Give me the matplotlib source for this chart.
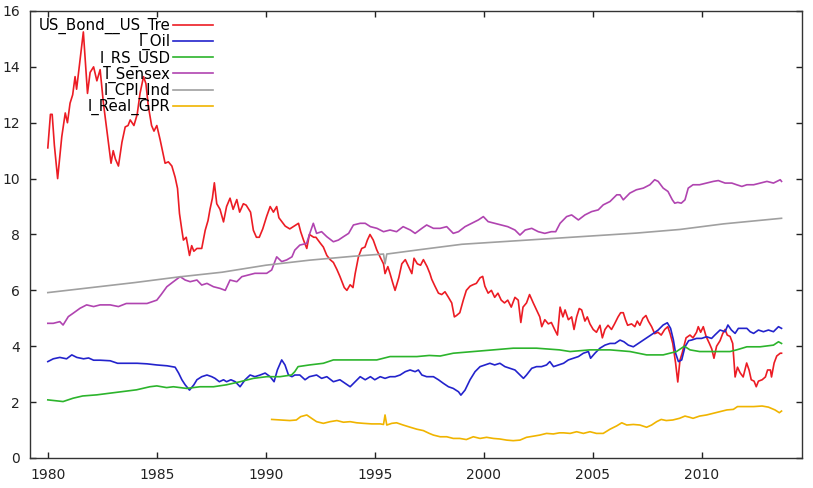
import numpy as np
import matplotlib
matplotlib.use("Agg")
import matplotlib.pyplot as plt

# (year, value) pairs
us_bond = [
    (1980.0, 11.1), (1980.12, 12.3), (1980.2, 12.3), (1980.3, 11.2), (1980.45, 10.0),
    (1980.64, 11.5), (1980.8, 12.35), (1980.9, 12.0), (1981.02, 12.7), (1981.14, 13.0),
    (1981.25, 13.65), (1981.32, 13.2), (1981.48, 14.25), (1981.63, 15.25), (1981.82, 13.05),
    (1981.94, 13.8), (1982.1, 14.0), (1982.25, 13.5), (1982.4, 13.9), (1982.55, 12.7),
    (1982.73, 11.6), (1982.9, 10.55), (1983.0, 11.0), (1983.1, 10.7), (1983.24, 10.45),
    (1983.4, 11.3), (1983.55, 11.85), (1983.68, 11.9), (1983.78, 12.1), (1983.95, 11.9),
    (1984.1, 12.3), (1984.23, 13.05), (1984.39, 13.65), (1984.5, 13.4), (1984.61, 12.6),
    (1984.76, 11.9), (1984.87, 11.7), (1985.0, 11.9), (1985.15, 11.4), (1985.38, 10.55),
    (1985.53, 10.6), (1985.69, 10.45), (1985.84, 10.05), (1985.95, 9.65), (1986.04, 8.75),
    (1986.15, 8.15), (1986.22, 7.8), (1986.35, 7.9), (1986.5, 7.25), (1986.6, 7.6),
    (1986.7, 7.4), (1986.84, 7.5), (1987.06, 7.5), (1987.22, 8.15), (1987.35, 8.5),
    (1987.44, 8.9), (1987.55, 9.3), (1987.64, 9.85), (1987.75, 9.1), (1987.9, 8.9),
    (1988.06, 8.45), (1988.2, 9.0), (1988.36, 9.3), (1988.5, 8.9), (1988.67, 9.25),
    (1988.8, 8.8), (1988.97, 9.1), (1989.1, 9.05), (1989.3, 8.8), (1989.43, 8.15),
    (1989.57, 7.9), (1989.7, 7.9), (1989.86, 8.2), (1990.04, 8.65), (1990.2, 9.0),
    (1990.35, 8.8), (1990.5, 9.0), (1990.6, 8.6), (1990.89, 8.3), (1991.1, 8.2),
    (1991.3, 8.3), (1991.5, 8.4), (1991.6, 8.1), (1991.73, 7.8), (1991.88, 7.5),
    (1992.0, 8.0), (1992.2, 7.9), (1992.3, 7.9), (1992.49, 7.7), (1992.64, 7.55),
    (1992.8, 7.25), (1992.95, 7.1), (1993.1, 7.0), (1993.26, 6.75), (1993.4, 6.5),
    (1993.5, 6.3), (1993.6, 6.1), (1993.72, 6.0), (1993.87, 6.2), (1994.0, 6.1),
    (1994.1, 6.6), (1994.25, 7.2), (1994.4, 7.5), (1994.55, 7.55), (1994.66, 7.8),
    (1994.78, 8.0), (1994.93, 7.8), (1995.09, 7.45), (1995.24, 7.2), (1995.4, 6.95),
    (1995.47, 6.6), (1995.6, 6.85), (1995.7, 6.6), (1995.83, 6.25), (1995.93, 6.0),
    (1996.1, 6.45), (1996.24, 6.95), (1996.4, 7.1), (1996.55, 6.85), (1996.7, 6.6),
    (1996.8, 7.15), (1996.95, 6.95), (1997.1, 6.9), (1997.23, 7.1), (1997.4, 6.85),
    (1997.53, 6.6), (1997.61, 6.4), (1997.76, 6.15), (1997.92, 5.9), (1998.07, 5.85),
    (1998.22, 5.95), (1998.38, 5.75), (1998.53, 5.55), (1998.65, 5.05), (1998.75, 5.1),
    (1998.9, 5.2), (1999.06, 5.65), (1999.2, 6.0), (1999.37, 6.15), (1999.5, 6.2),
    (1999.66, 6.25), (1999.83, 6.45), (1999.95, 6.5), (2000.05, 6.15), (2000.2, 5.9),
    (2000.35, 6.0), (2000.5, 5.75), (2000.65, 5.9), (2000.8, 5.65), (2000.95, 5.55),
    (2001.1, 5.65), (2001.26, 5.4), (2001.43, 5.75), (2001.58, 5.65), (2001.7, 4.85),
    (2001.8, 5.4), (2001.96, 5.55), (2002.1, 5.85), (2002.27, 5.55), (2002.42, 5.3),
    (2002.57, 5.05), (2002.66, 4.7), (2002.8, 4.95), (2002.96, 4.8), (2003.1, 4.85),
    (2003.25, 4.6), (2003.38, 4.4), (2003.5, 5.4), (2003.63, 5.05), (2003.73, 5.3),
    (2003.88, 4.95), (2004.03, 5.05), (2004.14, 4.6), (2004.26, 5.05), (2004.38, 5.35),
    (2004.49, 5.3), (2004.64, 4.9), (2004.75, 5.05), (2004.87, 4.8), (2005.02, 4.6),
    (2005.17, 4.5), (2005.33, 4.75), (2005.44, 4.3), (2005.56, 4.6), (2005.7, 4.75),
    (2005.86, 4.6), (2006.0, 4.8), (2006.16, 5.05), (2006.28, 5.2), (2006.4, 5.2),
    (2006.5, 4.95), (2006.6, 4.75), (2006.78, 4.8), (2006.93, 4.7), (2007.04, 4.9),
    (2007.16, 4.75), (2007.3, 5.0), (2007.44, 5.1), (2007.55, 4.9), (2007.7, 4.7),
    (2007.84, 4.45), (2007.99, 4.5), (2008.14, 4.4), (2008.3, 4.6), (2008.44, 4.7),
    (2008.55, 4.45), (2008.67, 4.1), (2008.8, 3.4), (2008.9, 2.72), (2009.0, 3.5),
    (2009.1, 3.75), (2009.28, 4.3), (2009.46, 4.4), (2009.6, 4.3), (2009.76, 4.5),
    (2009.84, 4.7), (2009.95, 4.5), (2010.07, 4.7), (2010.2, 4.35), (2010.35, 4.1),
    (2010.46, 3.9), (2010.56, 3.57), (2010.68, 4.0), (2010.84, 4.2), (2010.96, 4.45),
    (2011.07, 4.6), (2011.17, 4.4), (2011.3, 4.35), (2011.42, 4.1), (2011.53, 2.9),
    (2011.64, 3.25), (2011.76, 3.05), (2011.9, 2.9), (2012.06, 3.4), (2012.17, 3.15),
    (2012.27, 2.8), (2012.4, 2.75), (2012.5, 2.55), (2012.6, 2.75), (2012.77, 2.8),
    (2012.92, 2.9), (2013.02, 3.15), (2013.15, 3.15), (2013.2, 2.9), (2013.32, 3.4),
    (2013.44, 3.65), (2013.6, 3.75), (2013.66, 3.75),
]

l_oil = [
    (1980.0, 3.45), (1980.25, 3.55), (1980.55, 3.6), (1980.86, 3.55), (1981.1, 3.69),
    (1981.33, 3.6), (1981.64, 3.55), (1981.87, 3.58), (1982.1, 3.5), (1982.4, 3.5),
    (1982.86, 3.48), (1983.2, 3.39), (1983.63, 3.39), (1984.1, 3.39), (1984.55, 3.37),
    (1985.0, 3.33), (1985.47, 3.3), (1985.84, 3.25), (1986.0, 3.04), (1986.15, 2.8),
    (1986.3, 2.62), (1986.5, 2.43), (1986.7, 2.62), (1986.84, 2.8), (1987.06, 2.91),
    (1987.3, 2.97), (1987.52, 2.91), (1987.67, 2.85), (1987.87, 2.73), (1988.06, 2.8),
    (1988.2, 2.73), (1988.4, 2.8), (1988.6, 2.73), (1988.82, 2.55), (1989.05, 2.8),
    (1989.28, 2.97), (1989.5, 2.91), (1989.74, 2.97), (1989.97, 3.04), (1990.2, 2.91),
    (1990.38, 2.73), (1990.53, 3.15), (1990.73, 3.51), (1990.88, 3.33), (1991.04, 2.97),
    (1991.2, 2.91), (1991.33, 2.97), (1991.56, 2.97), (1991.8, 2.8), (1992.0, 2.91),
    (1992.33, 2.97), (1992.56, 2.85), (1992.8, 2.91), (1993.1, 2.73), (1993.4, 2.8),
    (1993.64, 2.67), (1993.87, 2.55), (1994.1, 2.73), (1994.33, 2.91), (1994.56, 2.8),
    (1994.8, 2.91), (1995.0, 2.8), (1995.25, 2.91), (1995.47, 2.85), (1995.7, 2.91),
    (1995.93, 2.91), (1996.16, 2.97), (1996.4, 3.09), (1996.62, 3.15), (1996.85, 3.09),
    (1997.0, 3.15), (1997.16, 2.97), (1997.38, 2.91), (1997.69, 2.91), (1997.92, 2.8),
    (1998.15, 2.67), (1998.38, 2.55), (1998.6, 2.49), (1998.84, 2.37), (1998.95, 2.25),
    (1999.14, 2.43), (1999.37, 2.8), (1999.6, 3.09), (1999.83, 3.27), (2000.05, 3.33),
    (2000.28, 3.39), (2000.5, 3.33), (2000.74, 3.39), (2000.97, 3.27), (2001.2, 3.21),
    (2001.43, 3.15), (2001.66, 2.97), (2001.82, 2.85), (2001.96, 2.97), (2002.2, 3.21),
    (2002.42, 3.27), (2002.65, 3.27), (2002.88, 3.33), (2003.03, 3.45), (2003.2, 3.27),
    (2003.43, 3.33), (2003.66, 3.39), (2003.88, 3.51), (2004.11, 3.57), (2004.34, 3.63),
    (2004.57, 3.75), (2004.8, 3.81), (2004.9, 3.57), (2005.1, 3.75), (2005.33, 3.93),
    (2005.56, 4.04), (2005.79, 4.1), (2006.02, 4.1), (2006.25, 4.22), (2006.43, 4.16),
    (2006.63, 4.04), (2006.86, 3.98), (2007.09, 4.1), (2007.32, 4.22), (2007.55, 4.34),
    (2007.78, 4.46), (2008.0, 4.58), (2008.23, 4.76), (2008.42, 4.84), (2008.57, 4.64),
    (2008.7, 4.22), (2008.8, 3.75), (2008.93, 3.45), (2009.08, 3.51), (2009.23, 3.98),
    (2009.4, 4.2), (2009.53, 4.22), (2009.76, 4.28), (2009.99, 4.28), (2010.22, 4.34),
    (2010.45, 4.28), (2010.6, 4.4), (2010.84, 4.58), (2011.07, 4.52), (2011.2, 4.76),
    (2011.36, 4.58), (2011.53, 4.46), (2011.68, 4.64), (2011.84, 4.64), (2012.07, 4.64),
    (2012.22, 4.52), (2012.38, 4.46), (2012.6, 4.58), (2012.83, 4.52), (2013.06, 4.58),
    (2013.29, 4.52), (2013.52, 4.7), (2013.66, 4.64),
]

l_rs_usd = [
    (1980.0, 2.08), (1980.7, 2.02), (1981.16, 2.14), (1981.6, 2.22), (1982.25, 2.26),
    (1982.85, 2.32), (1983.46, 2.38), (1984.07, 2.44), (1984.68, 2.55), (1985.0, 2.58),
    (1985.45, 2.52), (1985.76, 2.55), (1986.37, 2.49), (1986.98, 2.55), (1987.6, 2.55),
    (1988.2, 2.62), (1988.82, 2.73), (1989.43, 2.85), (1990.04, 2.91), (1990.65, 2.91),
    (1991.18, 2.97), (1991.33, 3.09), (1991.48, 3.27), (1992.0, 3.33), (1992.64, 3.39),
    (1993.1, 3.51), (1994.17, 3.51), (1995.09, 3.51), (1995.7, 3.63), (1996.3, 3.63),
    (1996.93, 3.63), (1997.5, 3.67), (1998.0, 3.65), (1998.6, 3.75), (1999.52, 3.81),
    (2000.44, 3.87), (2001.35, 3.93), (2002.42, 3.93), (2003.47, 3.87), (2003.96, 3.81),
    (2004.87, 3.87), (2005.79, 3.87), (2006.71, 3.81), (2007.47, 3.69), (2008.23, 3.69),
    (2008.84, 3.81), (2009.2, 4.0), (2009.46, 3.87), (2009.9, 3.81), (2010.53, 3.81),
    (2011.3, 3.81), (2011.6, 3.87), (2012.07, 3.98), (2012.68, 3.98), (2013.29, 4.04),
    (2013.52, 4.16), (2013.66, 4.1),
]

l_sensex = [
    (1980.0, 4.82), (1980.25, 4.82), (1980.55, 4.88), (1980.7, 4.76), (1980.94, 5.06),
    (1981.16, 5.18), (1981.48, 5.36), (1981.78, 5.48), (1982.1, 5.42), (1982.4, 5.48),
    (1982.86, 5.48), (1983.24, 5.42), (1983.6, 5.53), (1984.1, 5.53), (1984.55, 5.53),
    (1985.0, 5.65), (1985.2, 5.85), (1985.46, 6.13), (1985.76, 6.31), (1986.07, 6.49),
    (1986.3, 6.37), (1986.53, 6.31), (1986.84, 6.37), (1987.06, 6.19), (1987.3, 6.25),
    (1987.6, 6.13), (1987.9, 6.07), (1988.14, 6.0), (1988.36, 6.37), (1988.67, 6.31),
    (1988.9, 6.49), (1989.2, 6.55), (1989.5, 6.61), (1989.74, 6.61), (1990.04, 6.61),
    (1990.27, 6.73), (1990.5, 7.2), (1990.73, 7.03), (1990.96, 7.09), (1991.2, 7.2),
    (1991.33, 7.44), (1991.56, 7.62), (1991.87, 7.68), (1992.02, 8.04), (1992.18, 8.4),
    (1992.33, 8.04), (1992.56, 8.1), (1992.8, 7.92), (1993.1, 7.74), (1993.33, 7.8),
    (1993.56, 7.92), (1993.8, 8.04), (1994.02, 8.34), (1994.33, 8.4), (1994.56, 8.4),
    (1994.8, 8.28), (1995.1, 8.22), (1995.4, 8.1), (1995.7, 8.16), (1996.0, 8.1),
    (1996.3, 8.28), (1996.63, 8.16), (1996.85, 8.04), (1997.16, 8.22), (1997.38, 8.34),
    (1997.69, 8.22), (1998.0, 8.22), (1998.3, 8.28), (1998.6, 8.04), (1998.84, 8.1),
    (1999.14, 8.28), (1999.45, 8.4), (1999.75, 8.52), (1999.98, 8.64), (2000.2, 8.46),
    (2000.5, 8.4), (2000.8, 8.34), (2001.1, 8.28), (2001.43, 8.16), (2001.66, 7.98),
    (2001.9, 8.16), (2002.2, 8.22), (2002.5, 8.1), (2002.8, 8.04), (2003.1, 8.1),
    (2003.3, 8.1), (2003.5, 8.4), (2003.8, 8.64), (2004.03, 8.7), (2004.34, 8.52),
    (2004.64, 8.7), (2004.95, 8.82), (2005.25, 8.88), (2005.48, 9.06), (2005.79, 9.18),
    (2006.1, 9.42), (2006.25, 9.42), (2006.4, 9.24), (2006.7, 9.48), (2007.0, 9.6),
    (2007.32, 9.66), (2007.62, 9.78), (2007.84, 9.96), (2008.0, 9.9), (2008.23, 9.66),
    (2008.45, 9.54), (2008.65, 9.24), (2008.76, 9.12), (2008.9, 9.15), (2009.06, 9.12),
    (2009.23, 9.24), (2009.38, 9.66), (2009.6, 9.78), (2009.9, 9.78), (2010.22, 9.84),
    (2010.53, 9.9), (2010.76, 9.93), (2011.07, 9.84), (2011.38, 9.84), (2011.6, 9.78),
    (2011.84, 9.72), (2012.07, 9.78), (2012.38, 9.78), (2012.68, 9.84), (2012.99, 9.9),
    (2013.29, 9.84), (2013.6, 9.96), (2013.66, 9.9),
]

l_cpi_ind = [
    (1980.0, 5.92), (1982.0, 6.1), (1984.0, 6.28), (1986.0, 6.48), (1988.0, 6.65),
    (1990.0, 6.9), (1992.0, 7.08), (1994.0, 7.22), (1995.4, 7.3), (1995.47, 6.95),
    (1995.55, 7.3), (1997.0, 7.45), (1999.0, 7.65), (2001.0, 7.75), (2003.0, 7.85),
    (2005.0, 7.95), (2007.0, 8.05), (2009.0, 8.18), (2011.0, 8.38), (2013.66, 8.58),
]

l_real_gpr = [
    (1990.27, 1.38), (1991.1, 1.34), (1991.4, 1.36), (1991.6, 1.48), (1991.88, 1.54),
    (1992.1, 1.42), (1992.33, 1.3), (1992.64, 1.24), (1992.95, 1.3), (1993.26, 1.34),
    (1993.56, 1.28), (1993.87, 1.3), (1994.17, 1.26), (1994.48, 1.24), (1994.86, 1.22),
    (1995.25, 1.22), (1995.4, 1.2), (1995.47, 1.54), (1995.55, 1.18), (1995.78, 1.24),
    (1996.0, 1.26), (1996.3, 1.18), (1996.63, 1.1), (1996.93, 1.03), (1997.23, 0.98),
    (1997.5, 0.88), (1997.69, 0.82), (1998.0, 0.76), (1998.3, 0.76), (1998.6, 0.7),
    (1998.9, 0.7), (1999.2, 0.66), (1999.52, 0.76), (1999.83, 0.7), (2000.13, 0.74),
    (2000.44, 0.7), (2000.74, 0.68), (2001.05, 0.64), (2001.35, 0.62), (2001.66, 0.64),
    (2001.96, 0.74), (2002.27, 0.78), (2002.57, 0.82), (2002.88, 0.88), (2003.19, 0.86),
    (2003.47, 0.9), (2003.66, 0.9), (2003.96, 0.88), (2004.26, 0.94), (2004.57, 0.88),
    (2004.87, 0.94), (2005.17, 0.88), (2005.48, 0.88), (2005.79, 1.03), (2006.1, 1.15),
    (2006.33, 1.26), (2006.56, 1.18), (2006.86, 1.2), (2007.16, 1.18), (2007.47, 1.1),
    (2007.7, 1.18), (2007.93, 1.3), (2008.14, 1.38), (2008.37, 1.34), (2008.67, 1.36),
    (2008.98, 1.42), (2009.23, 1.5), (2009.43, 1.46), (2009.6, 1.42), (2009.9, 1.5),
    (2010.22, 1.54), (2010.53, 1.6), (2010.84, 1.66), (2011.15, 1.72), (2011.45, 1.74),
    (2011.64, 1.84), (2011.9, 1.84), (2012.38, 1.84), (2012.77, 1.86), (2013.06, 1.82),
    (2013.36, 1.72), (2013.56, 1.62), (2013.66, 1.68),
]

series_labels = ["US_Bond__US_Tre", "l_Oil", "l_RS_USD", "l_Sensex", "l_CPI_Ind", "l_Real_GPR"]
series_data = [us_bond, l_oil, l_rs_usd, l_sensex, l_cpi_ind, l_real_gpr]
colors = ["#ec1c24", "#2323cc", "#2cb42c", "#b044b0", "#a0a0a0", "#f0b400"]

fig = plt.figure(figsize=(8.13, 4.88), dpi=100)
ax = fig.add_axes([0.0363, 0.0615, 0.9502, 0.916])

for data, lab, col in zip(series_data, series_labels, colors):
    arr = np.array(data)
    ax.plot(arr[:, 0], arr[:, 1], color=col, lw=1.2, label=lab)

ax.set_xlim(1979.16, 2014.6)
ax.set_ylim(0, 16)
ax.set_xticks(range(1980, 2011, 5))
ax.set_yticks(range(0, 17, 2))
ax.tick_params(direction="in", length=4.5, width=1, top=True, right=True,
               labelsize=10, colors="#222222")
ax.tick_params(axis="x", pad=7)
ax.tick_params(axis="y", pad=7)
for s in ax.spines.values():
    s.set_color("#333333")
    s.set_linewidth(1.0)

leg = ax.legend(loc="upper right", bbox_to_anchor=(0.262, 0.963),
                bbox_transform=fig.transFigure, frameon=False, markerfirst=False,
                fontsize=10.8, handlelength=2.7, handletextpad=0.12,
                labelspacing=0.0, borderpad=0, borderaxespad=0)

fig.savefig("out.png", dpi=100)
